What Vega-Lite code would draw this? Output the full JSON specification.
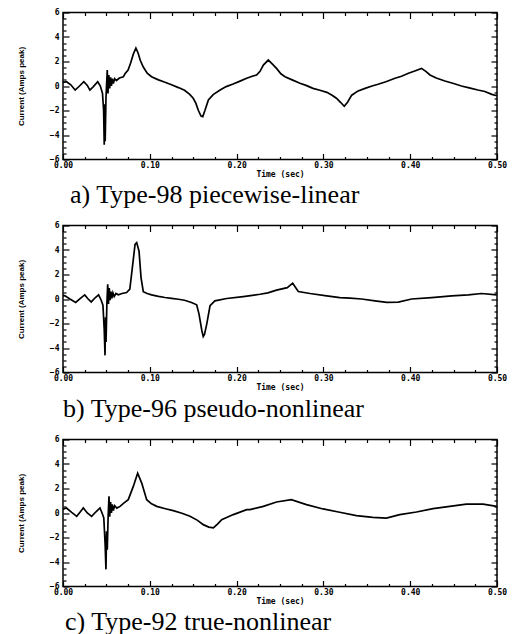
{
  "$schema": "https://vega.github.io/schema/vega-lite/v6.json",
  "padding": {"left": 16, "top": 7.5, "right": 5, "bottom": 0},
  "background": "white",
  "spacing": 12,
  "config": {
    "view": {"stroke": "black", "strokeWidth": 1.5},
    "axis": {
      "grid": false, "domain": false,
      "tickColor": "black", "tickWidth": 1.2,
      "labelColor": "black", "labelFont": "DejaVu Sans Mono", "labelFontWeight": "bold", "labelFontSize": 8,
      "labelFlush": false, "labelOverlap": false, "labelBound": false,
      "titleColor": "black"
    },
    "line": {"color": "black", "strokeWidth": 1.7, "interpolate": "linear"}
  },
  "datasets": {
    "a": [
      {"t":0.000,"v":0.30},{"t":0.004,"v":0.35},{"t":0.009,"v":0.10},{"t":0.014,"v":-0.33},{"t":0.019,"v":0.00},{"t":0.024,"v":0.35},{"t":0.028,"v":0.05},{"t":0.031,"v":-0.33},{"t":0.035,"v":-0.05},{"t":0.040,"v":0.35},{"t":0.043,"v":0.00},{"t":0.0455,"v":-0.6},{"t":0.0468,"v":-2.0},{"t":0.0475,"v":-4.8},{"t":0.0480,"v":-1.5},{"t":0.0486,"v":-4.5},{"t":0.0495,"v":-1.0},{"t":0.0510,"v":1.3},{"t":0.0518,"v":-0.6},{"t":0.0528,"v":0.9},{"t":0.0538,"v":-0.2},{"t":0.0548,"v":0.7},{"t":0.0558,"v":0.0},{"t":0.0568,"v":0.6},{"t":0.0580,"v":0.2},{"t":0.0595,"v":0.6},{"t":0.0615,"v":0.45},{"t":0.065,"v":0.65},{"t":0.0695,"v":0.75},{"t":0.0714,"v":1.0},{"t":0.075,"v":1.3},{"t":0.078,"v":1.9},{"t":0.081,"v":2.6},{"t":0.084,"v":3.1},{"t":0.0865,"v":2.7},{"t":0.089,"v":2.1},{"t":0.0925,"v":1.55},{"t":0.097,"v":1.05},{"t":0.102,"v":0.76},{"t":0.110,"v":0.5},{"t":0.1175,"v":0.3},{"t":0.125,"v":0.1},{"t":0.133,"v":-0.13},{"t":0.140,"v":-0.35},{"t":0.146,"v":-0.68},{"t":0.150,"v":-1.0},{"t":0.153,"v":-1.4},{"t":0.156,"v":-2.0},{"t":0.159,"v":-2.45},{"t":0.161,"v":-2.5},{"t":0.1635,"v":-2.0},{"t":0.1675,"v":-1.14},{"t":0.173,"v":-0.7},{"t":0.181,"v":-0.33},{"t":0.188,"v":-0.05},{"t":0.196,"v":0.16},{"t":0.204,"v":0.4},{"t":0.2116,"v":0.63},{"t":0.218,"v":0.8},{"t":0.223,"v":0.9},{"t":0.227,"v":1.2},{"t":0.2308,"v":1.71},{"t":0.2365,"v":2.12},{"t":0.241,"v":1.8},{"t":0.246,"v":1.44},{"t":0.251,"v":1.0},{"t":0.2558,"v":0.76},{"t":0.264,"v":0.5},{"t":0.273,"v":0.22},{"t":0.280,"v":0.05},{"t":0.288,"v":-0.19},{"t":0.296,"v":-0.35},{"t":0.304,"v":-0.52},{"t":0.310,"v":-0.75},{"t":0.315,"v":-1.0},{"t":0.320,"v":-1.35},{"t":0.324,"v":-1.65},{"t":0.328,"v":-1.3},{"t":0.3326,"v":-0.75},{"t":0.340,"v":-0.4},{"t":0.348,"v":-0.19},{"t":0.356,"v":0.0},{"t":0.363,"v":0.14},{"t":0.372,"v":0.35},{"t":0.3825,"v":0.63},{"t":0.390,"v":0.8},{"t":0.398,"v":1.04},{"t":0.406,"v":1.25},{"t":0.413,"v":1.44},{"t":0.418,"v":1.2},{"t":0.4228,"v":0.9},{"t":0.430,"v":0.65},{"t":0.440,"v":0.41},{"t":0.450,"v":0.2},{"t":0.459,"v":0.0},{"t":0.468,"v":-0.15},{"t":0.478,"v":-0.33},{"t":0.486,"v":-0.45},{"t":0.494,"v":-0.68},{"t":0.500,"v":-0.8}
    ],
    "b": [
      {"t":0.000,"v":0.3},{"t":0.0023,"v":0.26},{"t":0.008,"v":0.0},{"t":0.0146,"v":-0.28},{"t":0.020,"v":0.05},{"t":0.025,"v":0.34},{"t":0.029,"v":0.0},{"t":0.0325,"v":-0.24},{"t":0.037,"v":0.1},{"t":0.041,"v":0.34},{"t":0.044,"v":-0.1},{"t":0.046,"v":-0.5},{"t":0.0475,"v":-2.5},{"t":0.0484,"v":-4.6},{"t":0.0490,"v":-1.5},{"t":0.0496,"v":-3.5},{"t":0.0505,"v":-0.5},{"t":0.0515,"v":1.2},{"t":0.0524,"v":-0.4},{"t":0.0533,"v":0.9},{"t":0.0543,"v":-0.1},{"t":0.0553,"v":0.6},{"t":0.0563,"v":0.05},{"t":0.0575,"v":0.5},{"t":0.059,"v":0.2},{"t":0.061,"v":0.45},{"t":0.0637,"v":0.34},{"t":0.068,"v":0.45},{"t":0.0733,"v":0.53},{"t":0.077,"v":0.8},{"t":0.0799,"v":2.56},{"t":0.083,"v":4.46},{"t":0.0849,"v":4.6},{"t":0.0876,"v":3.9},{"t":0.0899,"v":1.75},{"t":0.0925,"v":0.6},{"t":0.097,"v":0.45},{"t":0.102,"v":0.34},{"t":0.110,"v":0.22},{"t":0.1175,"v":0.12},{"t":0.125,"v":0.05},{"t":0.133,"v":-0.02},{"t":0.140,"v":-0.1},{"t":0.148,"v":-0.28},{"t":0.154,"v":-0.47},{"t":0.1567,"v":-1.23},{"t":0.160,"v":-2.59},{"t":0.1616,"v":-3.07},{"t":0.163,"v":-2.9},{"t":0.1656,"v":-2.05},{"t":0.1694,"v":-0.55},{"t":0.175,"v":-0.15},{"t":0.1886,"v":0.04},{"t":0.2077,"v":0.2},{"t":0.227,"v":0.39},{"t":0.236,"v":0.5},{"t":0.246,"v":0.72},{"t":0.2584,"v":0.93},{"t":0.2646,"v":1.29},{"t":0.2711,"v":0.61},{"t":0.2846,"v":0.45},{"t":0.3038,"v":0.26},{"t":0.319,"v":0.12},{"t":0.3306,"v":0.07},{"t":0.344,"v":0.0},{"t":0.3594,"v":-0.15},{"t":0.373,"v":-0.28},{"t":0.3863,"v":-0.25},{"t":0.4017,"v":0.0},{"t":0.4248,"v":0.12},{"t":0.4478,"v":0.26},{"t":0.467,"v":0.34},{"t":0.4823,"v":0.45},{"t":0.4997,"v":0.34}
    ],
    "c": [
      {"t":0.000,"v":0.3},{"t":0.004,"v":0.41},{"t":0.010,"v":0.05},{"t":0.0158,"v":-0.27},{"t":0.020,"v":0.1},{"t":0.0234,"v":0.41},{"t":0.028,"v":0.0},{"t":0.033,"v":-0.27},{"t":0.038,"v":0.1},{"t":0.0426,"v":0.41},{"t":0.045,"v":0.0},{"t":0.047,"v":-0.4},{"t":0.0485,"v":-2.5},{"t":0.0495,"v":-4.6},{"t":0.0502,"v":-1.5},{"t":0.0510,"v":-3.0},{"t":0.0520,"v":-0.3},{"t":0.0530,"v":1.36},{"t":0.0538,"v":-0.3},{"t":0.0548,"v":0.9},{"t":0.0558,"v":0.0},{"t":0.0568,"v":0.7},{"t":0.0580,"v":0.2},{"t":0.0595,"v":0.6},{"t":0.062,"v":0.4},{"t":0.0657,"v":0.54},{"t":0.070,"v":0.8},{"t":0.0752,"v":1.09},{"t":0.081,"v":2.17},{"t":0.086,"v":3.25},{"t":0.0907,"v":2.44},{"t":0.0964,"v":1.09},{"t":0.102,"v":0.75},{"t":0.108,"v":0.54},{"t":0.118,"v":0.35},{"t":0.127,"v":0.19},{"t":0.137,"v":-0.02},{"t":0.1463,"v":-0.27},{"t":0.155,"v":-0.6},{"t":0.1616,"v":-0.95},{"t":0.168,"v":-1.15},{"t":0.1732,"v":-1.22},{"t":0.178,"v":-0.9},{"t":0.1828,"v":-0.54},{"t":0.1962,"v":-0.13},{"t":0.2116,"v":0.27},{"t":0.2154,"v":0.27},{"t":0.2308,"v":0.54},{"t":0.246,"v":0.9},{"t":0.263,"v":1.09},{"t":0.2805,"v":0.68},{"t":0.2996,"v":0.33},{"t":0.3188,"v":0.06},{"t":0.338,"v":-0.21},{"t":0.357,"v":-0.35},{"t":0.3726,"v":-0.41},{"t":0.388,"v":-0.13},{"t":0.4072,"v":0.08},{"t":0.4264,"v":0.36},{"t":0.4456,"v":0.54},{"t":0.4647,"v":0.73},{"t":0.484,"v":0.73},{"t":0.4997,"v":0.54}
    ]
  },
  "vconcat": [
    {
      "width": 434, "height": 147,
      "data": {"name": "a"},
      "title": {"text": "a) Type-98 piecewise-linear", "orient": "bottom", "anchor": "start", "frame": "group", "font": "Liberation Serif", "fontSize": 26, "fontWeight": "normal", "color": "black", "offset": 3, "dx": 7},
      "resolve": {"axis": {"x": "independent", "y": "independent"}},
      "layer": [
        {"mark": {"type": "line"},
         "encoding": {
           "x": {"field": "t", "type": "quantitative", "scale": {"domain": [0, 0.5], "nice": false},
                 "axis": {"orient": "bottom", "values": [0, 0.1, 0.2, 0.3, 0.4, 0.5], "format": ".2f", "offset": -6, "tickSize": 6, "labelPadding": 2, "title": "Time (sec)", "titleFont": "DejaVu Sans Mono", "titleFontSize": 8, "titleFontWeight": "bold", "titlePadding": 1}},
           "y": {"field": "v", "type": "quantitative", "scale": {"domain": [-6, 6], "nice": false},
                 "axis": {"orient": "left", "values": [-6, -4, -2, 0, 2, 4, 6], "format": "d", "offset": -6, "tickSize": 6, "labelPadding": 4, "title": "Current (Amps peak)", "titleFont": "Liberation Sans", "titleFontSize": 8, "titleFontWeight": "bold", "titlePadding": 24}}
         }},
        {"mark": {"type": "line", "opacity": 0},
         "encoding": {
           "x": {"field": "t", "type": "quantitative", "axis": {"orient": "top", "values": [0, 0.1, 0.2, 0.3, 0.4, 0.5], "offset": -6, "tickSize": 6, "labels": false, "title": null}},
           "y": {"field": "v", "type": "quantitative", "axis": {"orient": "right", "values": [-6, -4, -2, 0, 2, 4, 6], "offset": -6, "tickSize": 6, "labels": false, "title": null}}
         }},
        {"mark": {"type": "line", "opacity": 0},
         "encoding": {
           "x": {"field": "t", "type": "quantitative", "axis": {"orient": "bottom", "values": [0.025, 0.05, 0.075, 0.125, 0.15, 0.175, 0.225, 0.25, 0.275, 0.325, 0.35, 0.375, 0.425, 0.45, 0.475], "offset": -3, "tickSize": 3, "labels": false, "title": null}},
           "y": {"field": "v", "type": "quantitative", "axis": {"orient": "left", "values": [-5.5, -5, -4.5, -3.5, -3, -2.5, -1.5, -1, -0.5, 0.5, 1, 1.5, 2.5, 3, 3.5, 4.5, 5, 5.5], "offset": -3, "tickSize": 3, "labels": false, "title": null}}
         }},
        {"mark": {"type": "line", "opacity": 0},
         "encoding": {
           "x": {"field": "t", "type": "quantitative", "axis": {"orient": "top", "values": [0.025, 0.05, 0.075, 0.125, 0.15, 0.175, 0.225, 0.25, 0.275, 0.325, 0.35, 0.375, 0.425, 0.45, 0.475], "offset": -3, "tickSize": 3, "labels": false, "title": null}},
           "y": {"field": "v", "type": "quantitative", "axis": {"orient": "right", "values": [-5.5, -5, -4.5, -3.5, -3, -2.5, -1.5, -1, -0.5, 0.5, 1, 1.5, 2.5, 3, 3.5, 4.5, 5, 5.5], "offset": -3, "tickSize": 3, "labels": false, "title": null}}
         }}
      ]
    },
    {
      "width": 434, "height": 147,
      "data": {"name": "b"},
      "title": {"text": "b) Type-96 pseudo-nonlinear", "orient": "bottom", "anchor": "start", "frame": "group", "font": "Liberation Serif", "fontSize": 26, "fontWeight": "normal", "color": "black", "offset": 4, "dx": 0},
      "resolve": {"axis": {"x": "independent", "y": "independent"}},
      "layer": [
        {"mark": {"type": "line"},
         "encoding": {
           "x": {"field": "t", "type": "quantitative", "scale": {"domain": [0, 0.5], "nice": false},
                 "axis": {"orient": "bottom", "values": [0, 0.1, 0.2, 0.3, 0.4, 0.5], "format": ".2f", "offset": -6, "tickSize": 6, "labelPadding": 2, "title": "Time (sec)", "titleFont": "DejaVu Sans Mono", "titleFontSize": 8, "titleFontWeight": "bold", "titlePadding": 1}},
           "y": {"field": "v", "type": "quantitative", "scale": {"domain": [-6, 6], "nice": false},
                 "axis": {"orient": "left", "values": [-6, -4, -2, 0, 2, 4, 6], "format": "d", "offset": -6, "tickSize": 6, "labelPadding": 4, "title": "Current (Amps peak)", "titleFont": "Liberation Sans", "titleFontSize": 8, "titleFontWeight": "bold", "titlePadding": 24}}
         }},
        {"mark": {"type": "line", "opacity": 0},
         "encoding": {
           "x": {"field": "t", "type": "quantitative", "axis": {"orient": "top", "values": [0, 0.1, 0.2, 0.3, 0.4, 0.5], "offset": -6, "tickSize": 6, "labels": false, "title": null}},
           "y": {"field": "v", "type": "quantitative", "axis": {"orient": "right", "values": [-6, -4, -2, 0, 2, 4, 6], "offset": -6, "tickSize": 6, "labels": false, "title": null}}
         }},
        {"mark": {"type": "line", "opacity": 0},
         "encoding": {
           "x": {"field": "t", "type": "quantitative", "axis": {"orient": "bottom", "values": [0.025, 0.05, 0.075, 0.125, 0.15, 0.175, 0.225, 0.25, 0.275, 0.325, 0.35, 0.375, 0.425, 0.45, 0.475], "offset": -3, "tickSize": 3, "labels": false, "title": null}},
           "y": {"field": "v", "type": "quantitative", "axis": {"orient": "left", "values": [-5.5, -5, -4.5, -3.5, -3, -2.5, -1.5, -1, -0.5, 0.5, 1, 1.5, 2.5, 3, 3.5, 4.5, 5, 5.5], "offset": -3, "tickSize": 3, "labels": false, "title": null}}
         }},
        {"mark": {"type": "line", "opacity": 0},
         "encoding": {
           "x": {"field": "t", "type": "quantitative", "axis": {"orient": "top", "values": [0.025, 0.05, 0.075, 0.125, 0.15, 0.175, 0.225, 0.25, 0.275, 0.325, 0.35, 0.375, 0.425, 0.45, 0.475], "offset": -3, "tickSize": 3, "labels": false, "title": null}},
           "y": {"field": "v", "type": "quantitative", "axis": {"orient": "right", "values": [-5.5, -5, -4.5, -3.5, -3, -2.5, -1.5, -1, -0.5, 0.5, 1, 1.5, 2.5, 3, 3.5, 4.5, 5, 5.5], "offset": -3, "tickSize": 3, "labels": false, "title": null}}
         }}
      ]
    },
    {
      "width": 434, "height": 147,
      "data": {"name": "c"},
      "title": {"text": "c) Type-92 true-nonlinear", "orient": "bottom", "anchor": "start", "frame": "group", "font": "Liberation Serif", "fontSize": 26, "fontWeight": "normal", "color": "black", "offset": 3, "dx": 2},
      "resolve": {"axis": {"x": "independent", "y": "independent"}},
      "layer": [
        {"mark": {"type": "line"},
         "encoding": {
           "x": {"field": "t", "type": "quantitative", "scale": {"domain": [0, 0.5], "nice": false},
                 "axis": {"orient": "bottom", "values": [0, 0.1, 0.2, 0.3, 0.4, 0.5], "format": ".2f", "offset": -6, "tickSize": 6, "labelPadding": 2, "title": "Time (sec)", "titleFont": "DejaVu Sans Mono", "titleFontSize": 8, "titleFontWeight": "bold", "titlePadding": 1}},
           "y": {"field": "v", "type": "quantitative", "scale": {"domain": [-6, 6], "nice": false},
                 "axis": {"orient": "left", "values": [-6, -4, -2, 0, 2, 4, 6], "format": "d", "offset": -6, "tickSize": 6, "labelPadding": 4, "title": "Current (Amps peak)", "titleFont": "Liberation Sans", "titleFontSize": 8, "titleFontWeight": "bold", "titlePadding": 24}}
         }},
        {"mark": {"type": "line", "opacity": 0},
         "encoding": {
           "x": {"field": "t", "type": "quantitative", "axis": {"orient": "top", "values": [0, 0.1, 0.2, 0.3, 0.4, 0.5], "offset": -6, "tickSize": 6, "labels": false, "title": null}},
           "y": {"field": "v", "type": "quantitative", "axis": {"orient": "right", "values": [-6, -4, -2, 0, 2, 4, 6], "offset": -6, "tickSize": 6, "labels": false, "title": null}}
         }},
        {"mark": {"type": "line", "opacity": 0},
         "encoding": {
           "x": {"field": "t", "type": "quantitative", "axis": {"orient": "bottom", "values": [0.025, 0.05, 0.075, 0.125, 0.15, 0.175, 0.225, 0.25, 0.275, 0.325, 0.35, 0.375, 0.425, 0.45, 0.475], "offset": -3, "tickSize": 3, "labels": false, "title": null}},
           "y": {"field": "v", "type": "quantitative", "axis": {"orient": "left", "values": [-5.5, -5, -4.5, -3.5, -3, -2.5, -1.5, -1, -0.5, 0.5, 1, 1.5, 2.5, 3, 3.5, 4.5, 5, 5.5], "offset": -3, "tickSize": 3, "labels": false, "title": null}}
         }},
        {"mark": {"type": "line", "opacity": 0},
         "encoding": {
           "x": {"field": "t", "type": "quantitative", "axis": {"orient": "top", "values": [0.025, 0.05, 0.075, 0.125, 0.15, 0.175, 0.225, 0.25, 0.275, 0.325, 0.35, 0.375, 0.425, 0.45, 0.475], "offset": -3, "tickSize": 3, "labels": false, "title": null}},
           "y": {"field": "v", "type": "quantitative", "axis": {"orient": "right", "values": [-5.5, -5, -4.5, -3.5, -3, -2.5, -1.5, -1, -0.5, 0.5, 1, 1.5, 2.5, 3, 3.5, 4.5, 5, 5.5], "offset": -3, "tickSize": 3, "labels": false, "title": null}}
         }}
      ]
    }
  ]
}
